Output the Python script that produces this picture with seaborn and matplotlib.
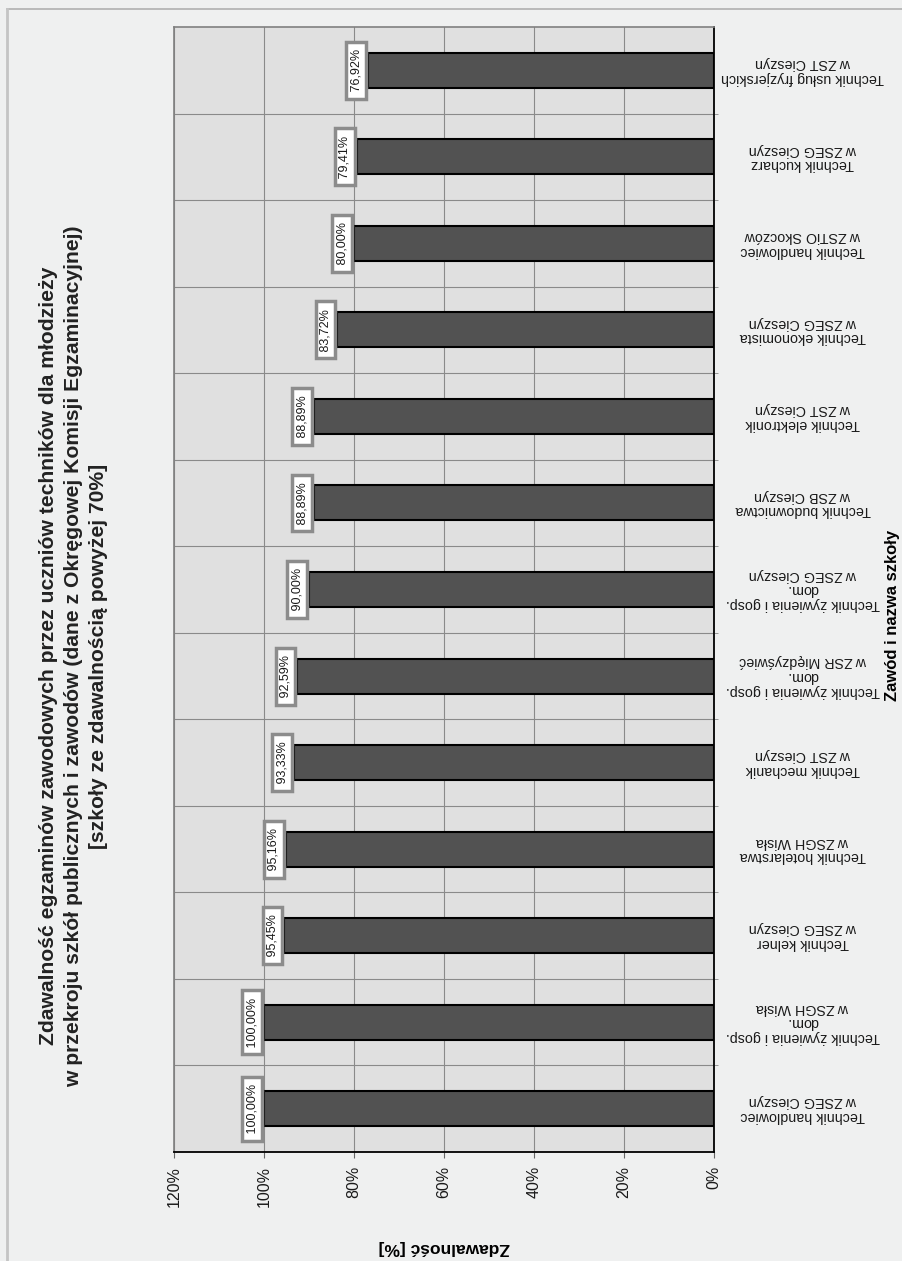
# plot.py - pass rates of vocational exams (rotated layout, as in the scanned page)
import seaborn as sns
import matplotlib.pyplot as plt
import pandas as pd

# data, first category is drawn at the bottom
professions = [
    "Technik handlowiec\nw ZSEG Cieszyn",
    "Technik żywienia i gosp.\ndom.\nw ZSGH Wisła",
    "Technik kelner\nw ZSEG Cieszyn",
    "Technik hotelarstwa\nw ZSGH Wisła",
    "Technik mechanik\nw ZST Cieszyn",
    "Technik żywienia i gosp.\ndom.\nw ZSR Międzyświeć",
    "Technik żywienia i gosp.\ndom.\nw ZSEG Cieszyn",
    "Technik budownictwa\nw ZSB Cieszyn",
    "Technik elektronik\nw ZST Cieszyn",
    "Technik ekonomista\nw ZSEG Cieszyn",
    "Technik handlowiec\nw ZSTiO Skoczów",
    "Technik kucharz\nw ZSEG Cieszyn",
    "Technik usług fryzjerskich\nw ZST Cieszyn",
]
pass_rates = [100.00, 100.00, 95.45, 95.16, 93.33, 92.59, 90.00,
              88.89, 88.89, 83.72, 80.00, 79.41, 76.92]
x_ticks = [0, 20, 40, 60, 80, 100, 120]
title_lines = [
    "Zdawalność egzaminów zawodowych przez uczniów techników dla młodzieży",
    "w przekroju szkół publicznych i zawodów (dane z Okręgowej Komisji Egzaminacyjnej)",
    "[szkoły ze zdawalnością powyżej 70%]",
]

df = pd.DataFrame({"Zawód": professions, "Zdawalność": pass_rates})

plt.rcParams["font.family"] = ["Liberation Sans", "DejaVu Sans"]

W, H = 902, 1261
fig = plt.figure(figsize=(W / 100, H / 100), dpi=100, facecolor="#eff0f0")

# page frame (only top and left edges are visible)
fig.add_artist(plt.Line2D([7 / W, 1], [1 - 9 / H] * 2, color="#b0b0b0", lw=1.2))
fig.add_artist(plt.Line2D([7 / W] * 2, [0, 1 - 9 / H], color="#c4c4c4", lw=2))

ax = fig.add_axes([174 / W, 1 - 1152 / H, 540 / W, 1125 / H])
ax.set_facecolor("#e0e0e0")
ax.set_axisbelow(True)

sns.barplot(data=df, x="Zdawalność", y="Zawód", orient="h", order=professions,
            color="#525252", saturation=1, edgecolor="black", linewidth=1.5,
            width=0.405, ax=ax)

n = len(professions)
ax.set_xlim(120, 0)
ax.set_ylim(-0.5, n - 0.5)

# value axis at the bottom, labels turned 90 degrees
ax.set_xticks(x_ticks)
ax.set_xticklabels([f"{t}%" for t in x_ticks], rotation=90, fontsize=11.5, color="#1a1a1a")
ax.tick_params(axis="x", length=4, pad=6, color="#666666")

# category axis on the right, labels upside down
ax.yaxis.tick_right()
ax.set_yticks(range(n))
ax.set_yticklabels(professions, rotation=180, ha="center", va="center",
                   fontsize=10.3, multialignment="center", linespacing=1.05,
                   color="#1a1a1a")
ax.tick_params(axis="y", which="major", length=0, pad=64)
ax.set_yticks([i + 0.5 for i in range(n - 1)], minor=True)
ax.tick_params(axis="y", which="minor", length=3, color="#888888",
               right=True, left=False)

ax.grid(axis="x", color="#8a8a8a", lw=0.8)
ax.grid(axis="y", which="minor", color="#8a8a8a", lw=0.8)

for side in ["left", "top"]:
    ax.spines[side].set_color("#808080")
    ax.spines[side].set_linewidth(1.2)
for side in ["bottom", "right"]:
    ax.spines[side].set_color("black")
    ax.spines[side].set_linewidth(1.3)

# data labels in white boxes
for i, v in enumerate(pass_rates):
    ax.annotate(" " + f"{v:.2f}%".replace(".", ",") + " ", xy=(v, i), xytext=(-8.5, 0),
                textcoords="offset points", rotation=90, ha="center", va="center",
                fontsize=9, color="#1a1a1a", zorder=5,
                bbox=dict(boxstyle="square,pad=0.3", fc="white", ec="#8c8c8c", lw=2.5))

ax.set_xlabel("Zdawalność [%]", rotation=180, fontsize=12.5, fontweight="bold")
ax.xaxis.set_label_coords(0.5, (1152 - 1247) / 1125)
ax.xaxis.label.set_va("center")

ax.yaxis.set_label_position("right")
ax.set_ylabel("Zawód i nazwa szkoły", rotation=90, fontsize=12, fontweight="bold")
ax.yaxis.set_label_coords((893 - 174) / 540, (1152 - 615) / 1125)
ax.yaxis.label.set_va("center")
ax.yaxis.label.set_ha("center")

fig.text(74 / W, 1 - 656 / H, "\n".join(title_lines), rotation=90,
         ha="center", va="center", fontsize=15.2, fontweight="bold",
         multialignment="center", linespacing=1.4, color="#222222")

fig.savefig("out.png", dpi=100, facecolor=fig.get_facecolor())
